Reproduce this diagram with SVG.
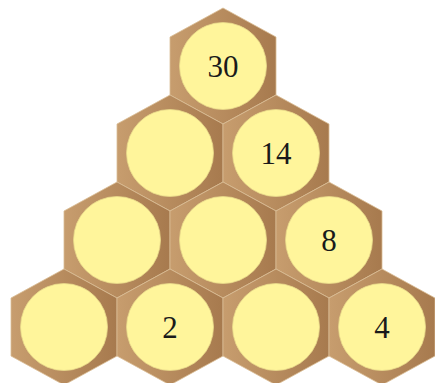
<svg xmlns="http://www.w3.org/2000/svg" width="435" height="383" viewBox="0 0 435 383">
<defs>
<linearGradient id="hg" x1="0" y1="0" x2="1" y2="0">
<stop offset="0" stop-color="#c79d6e"/>
<stop offset="1" stop-color="#a77a4e"/>
</linearGradient>
<polygon id="hex" points="0,-58 53,-29 53,29 0,58 -53,29 -53,-29"/>
</defs>
<style>
.h{fill:url(#hg);stroke:#d9bc94;stroke-width:0.8}
.c{fill:#fff59b;stroke:#e8d98a;stroke-width:0.8}
.t{font-family:"Liberation Serif","DejaVu Serif",serif;font-size:31px;fill:#1a1a1a;text-anchor:middle;dominant-baseline:central}
</style>
<g id="n30" transform="translate(223,66)"><use href="#hex" class="h"/><circle r="43.5" class="c"/><text class="t" y="0">30</text></g>
<g id="n1a" transform="translate(170,153)"><use href="#hex" class="h"/><circle r="43.5" class="c"/></g>
<g id="n14" transform="translate(276,153)"><use href="#hex" class="h"/><circle r="43.5" class="c"/><text class="t" y="0">14</text></g>
<g id="n2a" transform="translate(117,240)"><use href="#hex" class="h"/><circle r="43.5" class="c"/></g>
<g id="n2b" transform="translate(223,240)"><use href="#hex" class="h"/><circle r="43.5" class="c"/></g>
<g id="n8" transform="translate(329,240)"><use href="#hex" class="h"/><circle r="43.5" class="c"/><text class="t" y="0">8</text></g>
<g id="n3a" transform="translate(64,327)"><use href="#hex" class="h"/><circle r="43.5" class="c"/></g>
<g id="n2" transform="translate(170,327)"><use href="#hex" class="h"/><circle r="43.5" class="c"/><text class="t" y="0">2</text></g>
<g id="n3c" transform="translate(276,327)"><use href="#hex" class="h"/><circle r="43.5" class="c"/></g>
<g id="n4" transform="translate(382,327)"><use href="#hex" class="h"/><circle r="43.5" class="c"/><text class="t" y="0">4</text></g>
<g id="connectors"/>
</svg>
